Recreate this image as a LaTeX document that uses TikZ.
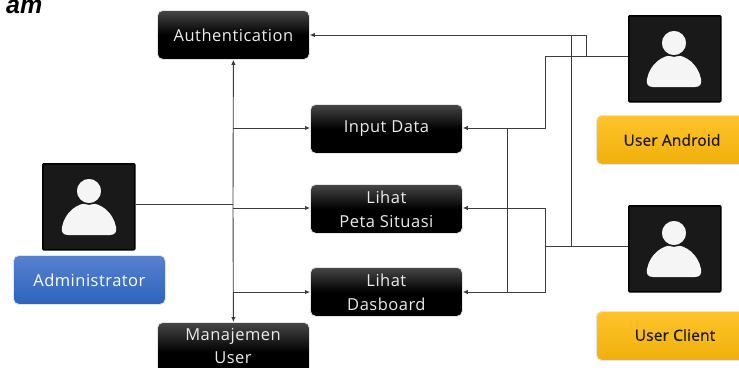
\documentclass[tikz,border=0pt]{standalone}
\usepackage{fontspec}
\setmainfont[LetterSpace=3]{Open Sans}
\newfontfamily\titlefont{Liberation Sans}
\newfontfamily\medfont[LetterSpace=1,FakeBold=0.6]{Open Sans}
\usetikzlibrary{arrows.meta,calc}
\definecolor{wire}{HTML}{3C3C3C}
\definecolor{bluetop}{RGB}{88,128,208}
\definecolor{bluebot}{RGB}{44,100,190}
\definecolor{yellowtop}{RGB}{255,196,44}
\definecolor{yellowbot}{RGB}{240,176,10}
\tikzset{
  x=1pt,y=-1pt,
  softbox/.style={rounded corners=5.5pt,inner sep=0pt,align=center,anchor=north west,
    font=\fontsize{16.5}{24}\selectfont,draw=black!10,line width=0.8pt},
  blackbox/.style={softbox,minimum width=152pt,minimum height=49pt,text=white!92!black,
    top color=black!72,bottom color=black,middle color=black},
  bluebox/.style={softbox,minimum width=152pt,minimum height=49pt,text=white,
    top color=bluetop,bottom color=bluebot},
  yellowbox/.style={softbox,minimum width=170pt,minimum height=49pt,
    top color=yellowtop,bottom color=yellowbot},
  yellowlabel/.style={inner sep=0pt,text=black!90,font=\medfont\fontsize{15.5}{24}\selectfont},
  iconbox/.style={anchor=north west,inner sep=0pt,minimum width=92pt,minimum height=86pt,
    fill=black!90,draw=black,line width=1.6pt,rounded corners=1pt},
  wireline/.style={draw=wire,line width=0.9pt},
  arrowline/.style={wireline,-{Latex[length=5pt,width=4.5pt]}},
  pics/person/.style={code={
    \fill[white!96!black] (-21,29) .. controls (-26,29) and (-28,26) .. (-27,21)
      .. controls (-24,6) and (-12,-3) .. (0,-3)
      .. controls (12,-3) and (24,6) .. (27,21)
      .. controls (28,26) and (26,29) .. (21,29) -- cycle;
    \fill[white!96!black,draw=black!90,line width=1.6pt] (0,-15) circle (13);
  }}
}
\begin{document}
\begin{tikzpicture}
\useasboundingbox (0,0) rectangle (739,367);
\clip (0,0) rectangle (739,367);
\fill[white] (0,0) rectangle (739,367);
\node[anchor=base west,inner sep=0pt,font=\titlefont\bfseries\itshape\fontsize{25}{25}\selectfont] (title) at (6,13.5) {am};

\node[blackbox] (auth) at (157,10) {Authentication};
\node[blackbox] (input) at (310,104) {Input Data};
\node[blackbox] (peta) at (310,184) {Lihat\\Peta Situasi};
\node[blackbox] (dash) at (310,267) {Lihat\\Dasboard};
\node[blackbox,minimum height=60pt] (manaj) at (157,322) {};
\node[inner sep=0pt,align=center,text=white!92!black,font=\fontsize{16.5}{23}\selectfont] (manajtext) at (233,346) {Manajemen\\User};

\node[iconbox] (aicon) at (42,163) {};
\pic at (89,206) {person};
\node[iconbox] (uicon) at (628,15) {};
\pic at (674,58) {person};
\node[iconbox] (cicon) at (628,205) {};
\pic at (674,248) {person};

\node[bluebox] (admin) at (13,255) {Administrator};
\node[yellowbox] (uandroid) at (596,115) {};
\node[yellowlabel] (uandroidtext) at (672,140) {User Android};
\node[yellowbox] (uclient) at (596,311) {};
\node[yellowlabel] (uclienttext) at (675,335) {User Client};

% junctions
\coordinate (adm) at (233,204);
\coordinate (bi) at (233,128);
\coordinate (bp) at (233,208);
\coordinate (bd) at (233,292);
\coordinate (ua) at (586,56.5);
\coordinate (ub) at (586,35);
\coordinate (uc) at (545,56.5);
\coordinate (ud) at (545,128);
\coordinate (ce) at (545,246);
\coordinate (cf) at (571,246);
\coordinate (cg) at (571,35);
\coordinate (ch) at (545,208);
\coordinate (cj) at (545,292);
\coordinate (k1) at (507,128);
\coordinate (k2) at (507,292);

% administrator
\draw[wireline] (aicon.east |- adm) -- (adm);
\draw[arrowline] (adm) -- (auth.south);
\draw[arrowline] (adm) -- (manaj.north);
\draw[arrowline] (bi) -- (input.west |- bi);
\draw[arrowline] (bp) -- (peta.west |- bp);
\draw[arrowline] (bd) -- (dash.west |- bd);

% user android
\draw[arrowline] (uicon.west |- ua) -- (ua) -- (ub) -- (auth.east |- ub);
\draw[arrowline] (ua) -- (uc) -- (ud) -- (input.east |- ud);
\draw[wireline] (k1) -- (k2);

% user client
\draw[wireline] (cicon.west |- ce) -- (ce);
\draw[wireline] (cf) -- (cg);
\draw[arrowline] (ce) -- (ch) -- (peta.east |- ch);
\draw[arrowline] (ce) -- (cj) -- (dash.east |- cj);
\end{tikzpicture}
\end{document}
